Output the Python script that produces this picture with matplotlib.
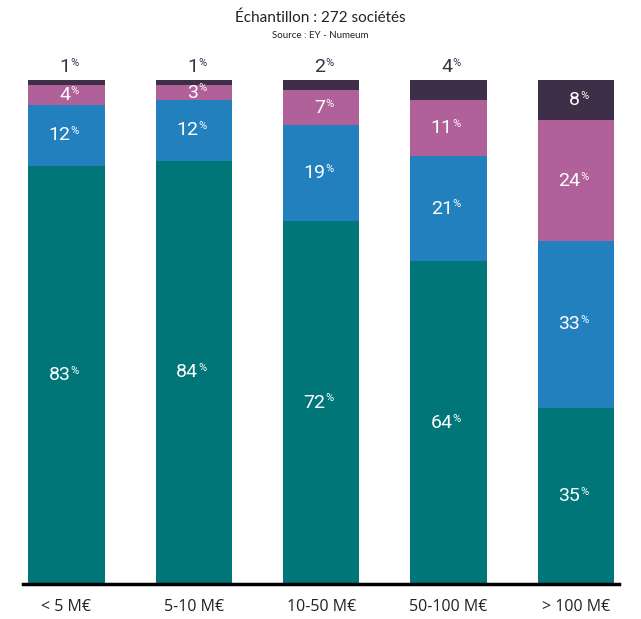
import numpy as np
import matplotlib.pyplot as plt

# data
categories = ['< 5 M€', '5-10 M€', '10-50 M€', '50-100 M€', '> 100 M€']
seg1 = [83, 84, 72, 64, 35]
seg2 = [12, 12, 19, 21, 33]
seg3 = [4, 3, 7, 11, 24]
seg4 = [1, 1, 2, 4, 8]

colors = ['#007679', '#2380be', '#b06199', '#3e2e47']
label_font = ['Roboto', 'DejaVu Sans']

fig = plt.figure(figsize=(6.41, 6.19), dpi=100)
ax = fig.add_axes([0.036, 0.0565, 0.93, 0.8143])

x = np.arange(len(categories))
bottom = np.zeros(len(categories))
series = [seg1, seg2, seg3, seg4]

def pct_label(xc, yc, val, color):
    # number with a small raised % sign
    ax.annotate(str(val), (xc, yc), xytext=(3, 0), textcoords='offset points',
                ha='right', va='center', fontsize=14, color=color,
                family=label_font, annotation_clip=False)
    ax.annotate('%', (xc, yc), xytext=(3, 3), textcoords='offset points',
                ha='left', va='center', fontsize=8, color=color,
                family=label_font, annotation_clip=False)

for k, (vals, col) in enumerate(zip(series, colors)):
    vals = np.array(vals)
    ax.bar(x, vals, bottom=bottom, width=0.6, color=col, linewidth=0)
    for i, v in enumerate(vals):
        if k == 3 and v < 5:
            pct_label(x[i], 102.6, v, '#3e2e47')
        else:
            pct_label(x[i], bottom[i] + v / 2, v, 'white')
    bottom += vals

ax.set_xlim(-0.34, 4.34)
ax.set_ylim(0, 100)
ax.set_yticks([])
ax.set_xticks(x)
ax.set_xticklabels(categories, fontsize=11.5, family='Open Sans', color='#222222')
ax.tick_params(axis='x', length=0, pad=11)
for s in ['top', 'right', 'left']:
    ax.spines[s].set_visible(False)
ax.spines['bottom'].set_linewidth(2.5)
ax.spines['bottom'].set_color('black')

fig.text(0.5, 0.971, 'Échantillon : 272 sociétés', ha='center', va='center',
         fontsize=11, family='Lato', color='#222222')
fig.text(0.5, 0.943, 'Source : EY - Numeum', ha='center', va='center',
         fontsize=7, family='Lato', color='#222222')

fig.savefig('out.png', dpi=100)
